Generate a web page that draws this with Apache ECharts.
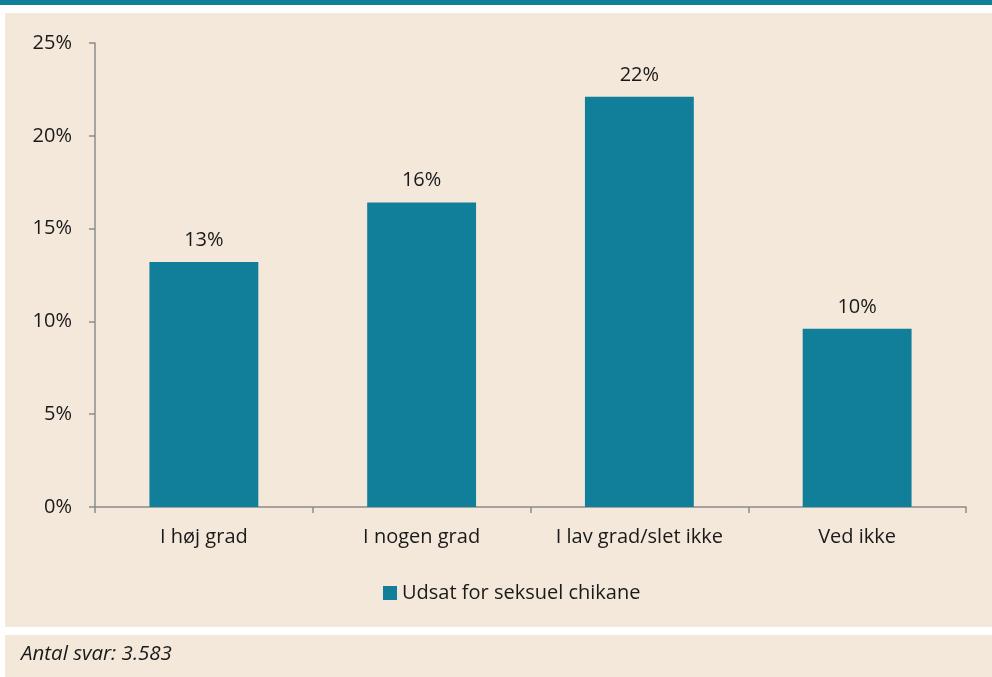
<!DOCTYPE html>
<html>
<head>
<meta charset="utf-8">
<script src="https://cdn.jsdelivr.net/npm/echarts@6/dist/echarts.min.js"></script>
<style>
  html, body { margin: 0; padding: 0; background: #ffffff; }
  #chart { width: 992px; height: 677px; }
</style>
</head>
<body>
<div id="chart"></div>
<script>
// data
var categories = ['I høj grad', 'I nogen grad', 'I lav grad/slet ikke', 'Ved ikke'];
var values = [13.2, 16.4, 22.1, 9.6];
var seriesName = 'Udsat for seksuel chikane';
var footnote = 'Antal svar: 3.583';

var teal = '#117e9a';
var beige = '#f4e8db';
var font = 'Open Sans';
var ink = '#1a1a1a';
var fs = 20;

var chart = echarts.init(document.getElementById('chart'));
var option = {
  backgroundColor: '#ffffff',
  animation: false,
  textStyle: { fontFamily: font },
  graphic: [
    { type: 'rect', z: -10, shape: { x: 0, y: 0, width: 992, height: 5 }, style: { fill: teal } },
    { type: 'rect', z: -10, shape: { x: 5, y: 13, width: 987, height: 614 }, style: { fill: beige } },
    { type: 'rect', z: -10, shape: { x: 5, y: 635, width: 987, height: 42 }, style: { fill: beige } },
    {
      type: 'text', left: 21, top: 644,
      style: { text: footnote, fontFamily: font, fontStyle: 'italic', fontSize: 20.5, fill: ink }
    }
  ],
  grid: { left: 95, right: 26, top: 43, bottom: 170 },
  legend: {
    data: [seriesName],
    top: 578,
    left: 378,
    itemWidth: 14,
    itemHeight: 14,
    itemGap: 6,
    icon: 'rect',
    textStyle: { fontSize: fs, color: ink, fontFamily: font }
  },
  xAxis: {
    type: 'category',
    data: categories,
    axisLine: { lineStyle: { color: '#8c8c8c', width: 1.5 } },
    axisTick: { show: true, length: 6, lineStyle: { color: '#8c8c8c', width: 1.5 } },
    axisLabel: { fontSize: fs, color: ink, margin: 20 }
  },
  yAxis: {
    type: 'value',
    min: 0,
    max: 25,
    interval: 5,
    axisLine: { show: true, lineStyle: { color: '#8c8c8c', width: 1.5 } },
    axisTick: { show: true, length: 6, lineStyle: { color: '#8c8c8c', width: 1.5 } },
    splitLine: { show: false },
    axisLabel: { fontSize: fs, color: ink, margin: 23, formatter: '{value}%' }
  },
  series: [{
    name: seriesName,
    type: 'bar',
    data: values,
    barWidth: '50%',
    itemStyle: { color: teal },
    label: {
      show: true,
      position: 'top',
      distance: 12,
      fontSize: fs,
      color: ink,
      formatter: function (p) { return Math.round(p.value) + '%'; }
    }
  }]
};
chart.setOption(option);
</script>
</body>
</html>
